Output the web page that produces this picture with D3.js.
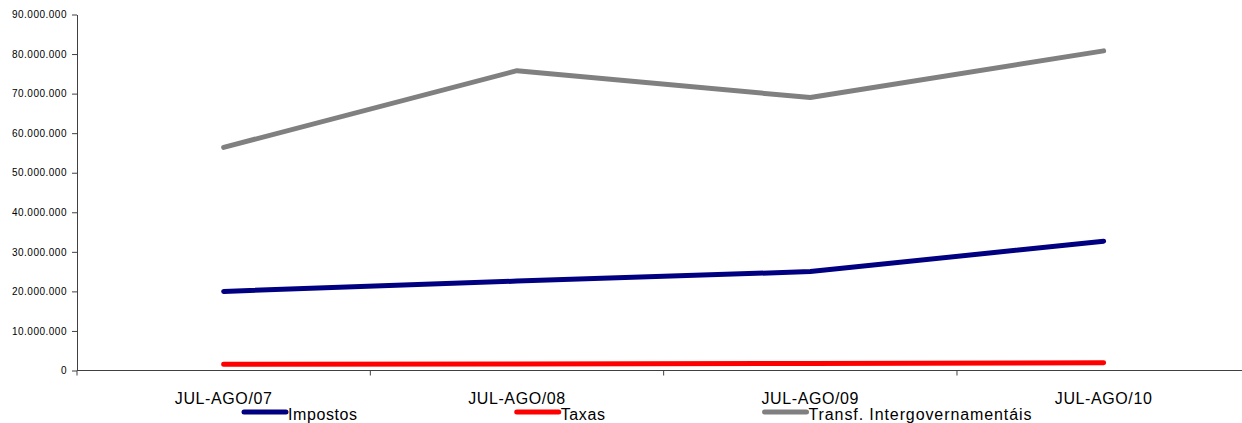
<!DOCTYPE html>
<html>
<head>
<meta charset="utf-8">
<script src="https://cdn.jsdelivr.net/npm/d3@7"></script>
<style>
  html, body { margin: 0; padding: 0; background: #fff; overflow: hidden; }
  svg { display: block; font-family: "Liberation Sans", Arial, sans-serif; }
</style>
</head>
<body>
<svg id="chart" width="1242" height="423"></svg>
<script>
// ---- data ----
const categories = ["JUL-AGO/07", "JUL-AGO/08", "JUL-AGO/09", "JUL-AGO/10"];
const impostos = [20000000, 22600000, 25000000, 32700000];
const taxas = [1570000, 1640000, 1770000, 1970000];
const transf = [56400000, 75800000, 69000000, 80800000];
const seriesNames = ["Impostos", "Taxas", "Transf. Intergovernamentáis"];
const seriesColors = ["#000080", "#ff0000", "#808080"];
const yTicks = [0, 10000000, 20000000, 30000000, 40000000, 50000000, 60000000, 70000000, 80000000, 90000000];

const seriesData = [impostos, taxas, transf];

// ---- layout ----
const svg = d3.select("#chart");
const plotLeft = 77, plotRight = 1250.3, plotTop = 14.5, plotBottom = 370.5;

const x = d3.scaleBand().domain(categories).range([plotLeft, plotRight]).paddingInner(0).paddingOuter(0);
const y = d3.scaleLinear().domain([0, 90000000]).range([plotBottom, plotTop]);

const fmt = v => d3.format(",")(v).replace(/,/g, ".");

// y axis
const yAxis = svg.append("g")
  .attr("transform", `translate(${plotLeft},0)`)
  .call(d3.axisLeft(y).tickValues(yTicks).tickSize(5).tickSizeOuter(0).tickPadding(5).tickFormat(fmt));
yAxis.select(".domain").attr("stroke", "#404040");
yAxis.selectAll(".tick line").attr("stroke", "#404040");
yAxis.selectAll(".tick text")
  .attr("font-size", 10)
  .attr("letter-spacing", 0.5)
  .attr("fill", "#000")
  .attr("font-family", '"Liberation Sans", Arial, sans-serif');

// x axis
const xAxisG = svg.append("g").attr("transform", `translate(0,${plotBottom})`);
xAxisG.append("line")
  .attr("x1", plotLeft).attr("x2", 1242)
  .attr("y1", 0).attr("y2", 0)
  .attr("stroke", "#404040");
const boundaries = categories.map(c => x(c));
xAxisG.selectAll("line.tk").data(boundaries).join("line")
  .attr("class", "tk")
  .attr("x1", d => d).attr("x2", d => d)
  .attr("y1", 0).attr("y2", 5)
  .attr("stroke", "#404040");
xAxisG.selectAll("text").data(categories).join("text")
  .attr("x", d => x(d) + x.bandwidth() / 2)
  .attr("y", 33)
  .attr("text-anchor", "middle")
  .attr("font-size", 16)
  .attr("letter-spacing", 0.6)
  .attr("fill", "#000")
  .text(d => d);

// lines
const line = d3.line()
  .x((d, i) => x(categories[i]) + x.bandwidth() / 2)
  .y(d => y(d));

svg.append("g").selectAll("path").data(seriesData).join("path")
  .attr("d", d => line(d))
  .attr("fill", "none")
  .attr("stroke", (d, i) => seriesColors[i])
  .attr("stroke-width", 5)
  .attr("stroke-linecap", "round")
  .attr("stroke-linejoin", "round");

// legend
const legend = svg.append("g");
let lx = 242;
const legendY = 412;
seriesNames.forEach((name, i) => {
  legend.append("line")
    .attr("x1", lx + 2).attr("x2", lx + 44)
    .attr("y1", legendY).attr("y2", legendY)
    .attr("stroke", seriesColors[i])
    .attr("stroke-width", 5)
    .attr("stroke-linecap", "round");
  const t = legend.append("text")
    .attr("x", lx + 46)
    .attr("y", legendY + 8)
    .attr("font-size", 16)
    .attr("letter-spacing", i === 2 ? 0.9 : 0.6)
    .attr("fill", "#000")
    .text(name);
  const w = t.node().getComputedTextLength();
  lx = lx + 46 + w + 157;
});
</script>
</body>
</html>
